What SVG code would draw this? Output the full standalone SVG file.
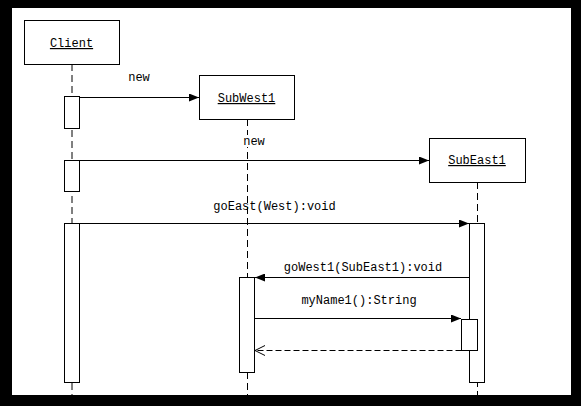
<svg xmlns="http://www.w3.org/2000/svg" width="581" height="406" viewBox="0 0 581 406">
<defs>
<style>
.box{fill:#fff;stroke:#000;stroke-width:1}
.act{fill:#fff;stroke:#000;stroke-width:1}
.life{stroke:#000;stroke-width:1;stroke-dasharray:7,4;fill:none}
.msg{stroke:#000;stroke-width:1;fill:none}
.ret{stroke:#000;stroke-width:1;fill:none;stroke-dasharray:6,3}
text{font-family:"Liberation Mono","DejaVu Sans Mono",monospace;font-size:12px;fill:#000}
.u{text-decoration:underline}
</style>
<marker id="filled" markerWidth="10" markerHeight="8" refX="10" refY="4" orient="auto" markerUnits="userSpaceOnUse">
<path d="M0,0 L10,4 L0,8 Z" fill="#000"/>
</marker>
<marker id="open" markerWidth="11" markerHeight="12" refX="10" refY="6" orient="auto" markerUnits="userSpaceOnUse">
<path d="M0,1 L10,6 L0,11" fill="none" stroke="#000"/>
</marker>
</defs>
<rect x="0" y="0" width="581" height="406" fill="#000"/>
<rect x="12" y="8" width="559" height="387" fill="#fff"/>
<g id="lifelines">
<line class="life" x1="72" y1="64" x2="72" y2="395"/>
<line class="life" x1="247.5" y1="119" x2="247.5" y2="395"/>
<line class="life" x1="477.5" y1="182" x2="477.5" y2="395"/>
</g>
<g id="client">
<rect class="box" x="24.5" y="20.5" width="95" height="44"/>
<text class="u" x="71.5" y="47" text-anchor="middle">Client</text>
</g>
<g id="subwest1">
<rect class="box" x="199.5" y="75.5" width="95" height="44"/>
<text class="u" x="246.5" y="102" text-anchor="middle">SubWest1</text>
</g>
<g id="subeast1">
<rect class="box" x="429.5" y="138.5" width="96" height="44"/>
<text class="u" x="477" y="164" text-anchor="middle">SubEast1</text>
</g>
<g id="activations">
<rect class="act" x="64.5" y="96.5" width="15" height="32"/>
<rect class="act" x="64.5" y="160.5" width="15" height="31"/>
<rect class="act" x="64.5" y="223.5" width="15" height="159"/>
<rect class="act" x="469.5" y="223.5" width="15" height="159"/>
<rect class="act" x="239.5" y="277.5" width="15" height="95"/>
<rect class="act" x="461.5" y="319.5" width="16" height="31"/>
</g>
<g id="connectors">
<line class="msg" x1="79.5" y1="97.5" x2="199" y2="97.5" marker-end="url(#filled)"/>
<text x="139" y="81" text-anchor="middle">new</text>
<line class="msg" x1="79.5" y1="160.5" x2="429" y2="160.5" marker-end="url(#filled)"/>
<rect x="243" y="135" width="22" height="12" fill="#fff"/>
<text x="254" y="145" text-anchor="middle">new</text>
<line class="msg" x1="79.5" y1="223.5" x2="469" y2="223.5" marker-end="url(#filled)"/>
<text x="274.5" y="210" text-anchor="middle">goEast(West):void</text>
<line class="msg" x1="469.5" y1="277.5" x2="255" y2="277.5" marker-end="url(#filled)"/>
<text x="363" y="271" text-anchor="middle">goWest1(SubEast1):void</text>
<line class="msg" x1="254.5" y1="318.5" x2="461" y2="318.5" marker-end="url(#filled)"/>
<text x="359" y="304" text-anchor="middle">myName1():String</text>
<line class="ret" x1="461.5" y1="350.5" x2="255" y2="350.5" marker-end="url(#open)"/>
</g>
</svg>
